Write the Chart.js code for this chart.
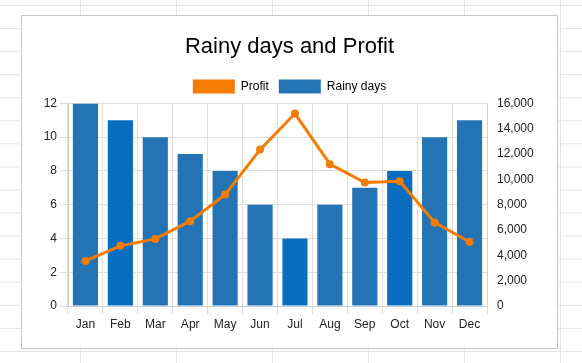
<!DOCTYPE html>
<html>
<head>
<meta charset="utf-8">
<script src="https://cdn.jsdelivr.net/npm/chart.js@4"></script>
<style>
  html, body {
    margin: 0;
    padding: 0;
    width: 582px;
    height: 363px;
    overflow: hidden;
    background-color: #fff;
    background-image:
      linear-gradient(to right, #e3e3e3 1px, transparent 1px),
      linear-gradient(to bottom, #e3e3e3 1px, transparent 1px);
    background-size: 96px 23.07px;
    background-position: 80px 5px;
  }
  #box {
    position: absolute;
    left: 21px;
    top: 15px;
    width: 535px;
    height: 332px;
    border: 1px solid #c8c8c8;
    background: #fff;
  }
  canvas { display: block; }
</style>
</head>
<body>
<div id="box"><canvas id="chart" width="535" height="332"></canvas></div>
<script>
const months = ['Jan', 'Feb', 'Mar', 'Apr', 'May', 'Jun', 'Jul', 'Aug', 'Sep', 'Oct', 'Nov', 'Dec'];
const rainyDays = [12, 11, 10, 9, 8, 6, 4, 6, 7, 8, 10, 11];
const profit = [3560, 4750, 5300, 6700, 8800, 12350, 15200, 11200, 9750, 9850, 6600, 5050];
// Feb, Jul and Oct bars are a slightly different blue in the original
const highlighted = ['Feb', 'Jul', 'Oct'];

const FONT = 'Liberation Sans, Arial, sans-serif';
const barBlue = '#2474b5';
const barBlueDark = '#0a6ec0';
const orange = '#f57c00';

const barColors = months.map(m => highlighted.includes(m) ? barBlueDark : barBlue);

new Chart(document.getElementById('chart'), {
    type: 'bar',
    data: {
        labels: months,
        datasets: [
            {
                type: 'line',
                label: 'Profit',
                data: profit,
                yAxisID: 'y1',
                borderColor: orange,
                backgroundColor: orange,
                borderWidth: 3,
                pointRadius: 4,
                pointBorderWidth: 0,
                pointBackgroundColor: orange,
                tension: 0,
                order: 0
            },
            {
                label: 'Rainy days',
                data: rainyDays,
                yAxisID: 'y',
                backgroundColor: barColors,
                borderWidth: 0,
                order: 1
            }
        ]
    },
    options: {
        responsive: false,
        animation: false,
        devicePixelRatio: 1,
        layout: { padding: 0 },
        plugins: {
            title: {
                display: true,
                text: 'Rainy days and Profit',
                color: '#000',
                font: { family: FONT, size: 22, weight: 'normal' },
                padding: { top: 18, bottom: 9 }
            },
            legend: {
                labels: {
                    boxWidth: 42,
                    boxHeight: 14,
                    padding: 10,
                    color: '#222',
                    font: { family: FONT, size: 12 },
                    generateLabels: chart => chart.data.datasets.map((ds, i) => ({
                        text: ds.label,
                        fillStyle: i === 0 ? orange : barBlue,
                        strokeStyle: i === 0 ? orange : barBlue,
                        lineWidth: 0,
                        datasetIndex: i
                    }))
                }
            },
            tooltip: { enabled: false }
        },
        scales: {
            x: {
                offset: true,
                grid: { offset: true, color: '#dedede', tickLength: 8 },
                border: { color: '#c9d3de' },
                ticks: { color: '#222', font: { family: FONT, size: 12 }, padding: 3 },
                afterFit: s => { s.height = 42; }
            },
            y: {
                position: 'left',
                min: 0,
                max: 12,
                ticks: { stepSize: 2, color: '#222', font: { family: FONT, size: 12 }, padding: 3 },
                grid: { color: '#dedede', tickLength: 8 },
                border: { color: '#cccccc' },
                afterFit: s => { s.width = 46; }
            },
            y1: {
                position: 'right',
                min: 0,
                max: 16000,
                ticks: { stepSize: 2000, color: '#222', font: { family: FONT, size: 12 }, padding: 10 },
                grid: { drawOnChartArea: false, drawTicks: false },
                border: { color: '#c9d3de' },
                afterFit: s => { s.width = 70; }
            }
        }
    }
});
</script>
</body>
</html>
